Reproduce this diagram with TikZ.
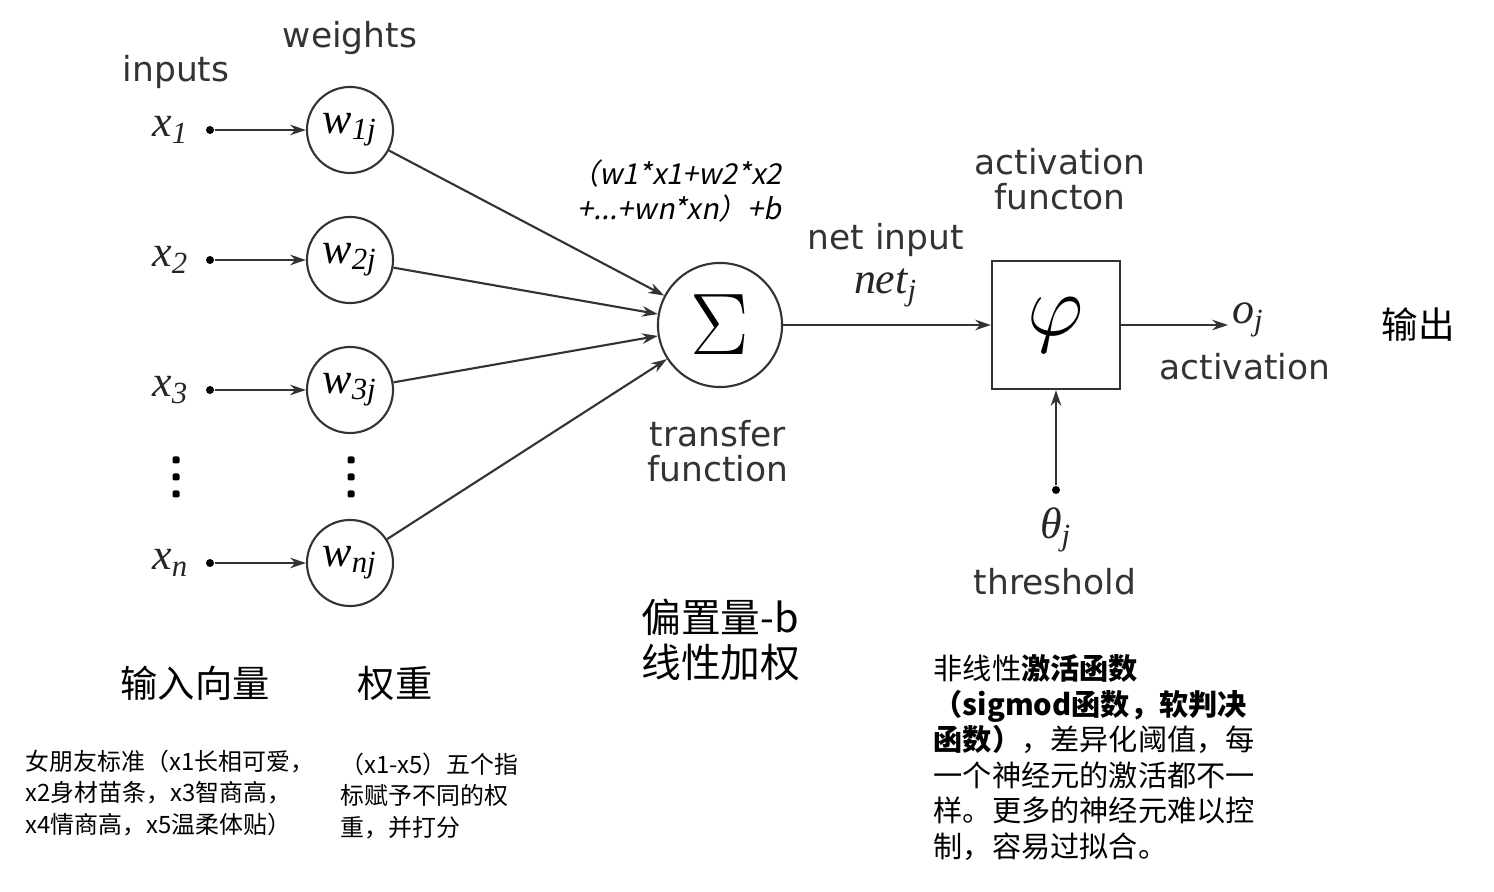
\documentclass[tikz,border=0pt]{standalone}
\usepackage{fontspec}
\setmainfont{DejaVu Sans}
\newfontfamily\tms{Liberation Serif}
\newfontfamily\cjk{Noto Sans CJK SC}
\newfontfamily\cjkit[FakeSlant=0.2]{Noto Sans CJK SC}
\usetikzlibrary{arrows.meta,positioning}

\newcommand{\vr}[2]{{\tms\itshape #1\textsubscript{#2}}}

\begin{document}
\begin{tikzpicture}[
  x=0.01cm,y=-0.01cm,
  wt/.style={draw=black!80,circle,line width=0.6pt,minimum size=0.86cm,inner sep=0pt,
             font=\fontsize{12.5}{14}\selectfont},
  dot/.style={circle,fill=black,inner sep=0pt,minimum size=0.08cm},
  vdot/.style={fill=black,inner sep=0pt,minimum size=0.07cm,rounded corners=0.4pt},
  lbl/.style={font=\fontsize{9.8}{10}\selectfont,align=center,text=black!80},
  mth/.style={font=\fontsize{12.5}{14}\selectfont,text=black!85,inner sep=1pt},
  zh/.style={font=\cjk\fontsize{10.6}{12.8}\selectfont,align=left},
  note/.style={font=\cjk\fontsize{6.8}{9}\selectfont,align=left,anchor=north west,inner sep=0pt},
  arr/.style={-{Stealth[length=4.5pt,width=3pt]},line width=0.6pt,draw=black!80}
]
\useasboundingbox (0,0) rectangle (1494,892);

% summing junction and activation box
\node[draw=black!80,circle,line width=0.6pt,minimum size=1.24cm,inner sep=0pt,
      font=\fontsize{23}{24}\selectfont] (sum) at (720,325) {$\Sigma$};
\node[draw=black!80,line width=0.6pt,minimum size=1.28cm,inner sep=0pt,
      font=\fontsize{24}{26}\selectfont] (act) at (1056,325) {$\varphi$};

% inputs and weights
\foreach \i/\y in {1/130,2/260,3/390,n/563}{
  \node[wt] (w\i) at (350,\y) {\vr{w}{\i j}};
  \node[dot] (d\i) at (210,\y) {};
  \node[mth,left=0.12cm of d\i] (x\i) {\vr{x}{\i}};
  \draw[arr] (d\i) -- (w\i);
  \draw[arr] (w\i) -- (sum);
}
\foreach \y in {460,477,494}{
  \node[vdot] (vx\y) at (176,\y) {};
  \node[vdot] (vw\y) at (351,\y) {};
}

\node[lbl] (inputs) at (176,72) {inputs};
\node[lbl] (weights) at (350,38) {weights};

% net input
\draw[arr] (sum) -- (act);
\node[lbl] (netin) at (886,240) {net input};
\node[mth] (netj) at (886,288) {\vr{net}{j}};
\node[font=\cjkit\fontsize{8.2}{10.2}\selectfont,align=right,anchor=east] (sumtxt) at (794,191)
  {（w1*x1+w2*x2\\+...+wn*xn）+b};
\node[lbl] (transfer) at (718,451) {transfer\\function};

% activation
\node[lbl] (actfn) at (1060,179) {activation\\functon};
\node[mth,anchor=west] (out) at (1228,320) {\vr{o}{j}};
\draw[arr] (act) -- (out.west |- act);
\node[lbl] (outlbl) at (1245,367) {activation};
\node[dot] (th) at (1056,490) {};
\draw[arr] (th) -- (act);
\node[mth] (theta) at (1056,530) {\vr{θ}{j}};
\node[lbl] (thlbl) at (1055,582) {threshold};

% chinese notes
\node[font=\cjk\fontsize{10.4}{12}\selectfont] (shuchu) at (1418,325) {输出};
\node[zh,anchor=west,font=\cjk\fontsize{11.3}{12.8}\selectfont] (bias) at (629,640) {偏置量-b\\线性加权};
\node[zh] (invec) at (195,683) {输入向量};
\node[zh] (quanzhong) at (395,683) {权重};
\node[note] (n1) at (25,749) {女朋友标准（x1长相可爱，\\x2身材苗条，x3智商高，\\x4情商高，x5温柔体贴）};
\node[note] (n2) at (340,752) {（x1-x5）五个指\\标赋予不同的权\\重，并打分};
\node[note,font=\cjk\fontsize{8.3}{10.1}\selectfont] (n3) at (933,654)
  {非线性\textbf{激活函数}\\\textbf{（sigmod函数，软判决}\\\textbf{函数）}，差异化阈值，每\\一个神经元的激活都不一\\样。更多的神经元难以控\\制，容易过拟合。};
\end{tikzpicture}
\end{document}
